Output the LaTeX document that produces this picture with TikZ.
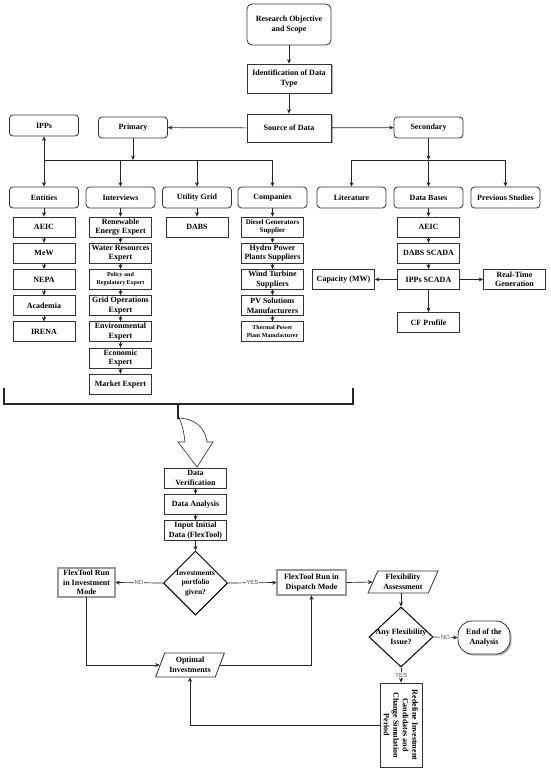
\documentclass[tikz,border=0pt]{standalone}
\usepackage{fontspec}
\setmainfont{Liberation Serif}
\newfontfamily\labelsans{Liberation Sans}
\usetikzlibrary{arrows.meta,shapes.geometric,shadows}

\begin{document}
\begin{tikzpicture}[x=1pt,y=-1pt,
    >={Stealth[length=4.5pt,width=4pt]},
    every node/.style={font=\fontsize{8}{9.5}\selectfont\bfseries, align=center, inner sep=0.75pt},
    txtn/.style={},
    txtm/.style={font=\fontsize{7}{8.5}\selectfont\bfseries},
    txts/.style={font=\fontsize{6}{7.8}\selectfont\bfseries},
    rbox/.style={draw=black!80, line width=0.8pt, rounded corners=3.5pt, fill=white, minimum width=69pt, minimum height=21pt},
    sbox/.style={draw=black!80, line width=0.8pt, fill=white, minimum width=62pt, minimum height=20pt},
    shbox/.style={draw=black!80, line width=0.8pt, fill=white, minimum width=84pt, drop shadow={shadow xshift=1.5pt, shadow yshift=-1.5pt, fill=black!50, opacity=0.6}},
    runbox/.style={draw=black!75, double=black!40, line width=0.6pt, double distance=1.4pt, fill=white},
    iobox/.style={trapezium, trapezium left angle=65, trapezium right angle=115, trapezium stretches=true, draw=black!80, line width=0.8pt, fill=white},
    decision/.style={diamond, draw=black, line width=1pt, fill=white, minimum width=64pt, minimum height=64pt, inner sep=0pt},
    endbox/.style={draw=black!80, line width=0.8pt, rounded corners=14pt, fill=white, minimum width=52pt, minimum height=33pt, drop shadow={shadow xshift=1.5pt, shadow yshift=-1.5pt, fill=black!50, opacity=0.6}},
    conn/.style={draw=black!85, line width=0.7pt, ->},
    bus/.style={draw=black!85, line width=0.7pt},
    yn/.style={font=\labelsans\fontsize{6}{7}\selectfont, fill=white, inner sep=0.8pt, text=black!70}]
    \fill[white] (0,0) rectangle (550,770);
    \useasboundingbox (0,0) rectangle (550,770);

    % Top of the chart
    \node[rbox, minimum width=84pt, minimum height=41pt, rounded corners=5pt] (obj) at (289,24.5) {Research Objective\\and Scope};
    \node[shbox, minimum height=29pt] (ident) at (289,78.5) {Identification of Data\\Type};
    \node[shbox, minimum height=28pt] (src) at (289,128) {Source of Data};
    \node[rbox] (prim) at (133,127.5) {Primary};
    \node[rbox] (ipps) at (44,125.5) {IPPs};
    \node[rbox] (sec) at (428.5,127.5) {Secondary};
    \draw[conn] (obj) -- (ident);
    \draw[conn] (ident) -- (src);
    \draw[conn] (src) -- (prim);
    \draw[conn] (src) -- (sec);

    % Data categories
    \foreach \nm/\xx/\txt in {ent/44/Entities, intv/120.5/Interviews, util/197/Utility Grid, comp/272.5/Companies, lit/351.5/Literature, dbase/428.5/Data Bases, prev/505.5/Previous Studies}
        \node[rbox] (\nm) at (\xx,197.5) {\txt};
    \coordinate (pbus) at (133,160);
    \coordinate (sbus) at (428.5,160);
    \draw[conn] (prim) -- (pbus);
    \draw[bus] (ent.north |- pbus) -- (comp.north |- pbus);
    \draw[<->, draw=black!85, line width=0.7pt] (ipps) -- (ent);
    \foreach \nm in {intv,util,comp}
        \draw[conn] (pbus -| \nm.north) -- (\nm.north);
    \draw[conn] (sec) -- (sbus);
    \draw[bus] (lit.north |- sbus) -- (prev.north |- sbus);
    \foreach \nm in {lit,dbase,prev}
        \draw[conn] (sbus -| \nm.north) -- (\nm.north);

    % Entities
    \foreach \nm/\yy/\txt/\st [remember=\nm as \pv (initially ent)] in
        {e1/227/AEIC/txtn, e2/253.2/MeW/txtn, e3/279.4/NEPA/txtn, e4/305.6/Academia/txtn, e5/331.8/IRENA/txtn}
        {\node[sbox,\st] (\nm) at (44,\yy) {\txt};
         \draw[conn] (\pv.south) -- (\nm.north);}
    % Interviews
    \foreach \nm/\yy/\txt/\st [remember=\nm as \pv (initially intv)] in
        {i1/227/Renewable\\Energy Expert/txtn, i2/253.2/Water Resources\\Expert/txtn, i3/279.4/Policy and\\Regulatory Expert/txts,
         i4/305.6/Grid Operations\\Expert/txtn, i5/331.8/Environmental\\Expert/txtn, i6/358/Economic\\Expert/txtn, i7/384.2/Market Expert/txtn}
        {\node[sbox,\st] (\nm) at (120.5,\yy) {\txt};
         \draw[conn] (\pv.south) -- (\nm.north);}
    % Utility grid
    \node[sbox] (u1) at (197,227) {DABS};
    \draw[conn] (util) -- (u1);
    % Companies
    \foreach \nm/\yy/\txt/\st [remember=\nm as \pv (initially comp)] in
        {c1/227/Diesel Generators\\Supplier/txtm, c2/253.2/Hydro Power\\Plants Suppliers/txtn, c3/279.4/Wind Turbine\\Suppliers/txtn,
         c4/305.6/PV Solutions\\Manufacturers/txtn, c5/331.8/Thermal Power\\Plant Manufacturer/txts}
        {\node[sbox,\st] (\nm) at (272.5,\yy) {\txt};
         \draw[conn] (\pv.south) -- (\nm.north);}
    % Data bases
    \foreach \nm/\yy/\txt [remember=\nm as \pv (initially dbase)] in
        {b1/227/AEIC, b2/253.2/DABS SCADA, b3/279.4/IPPs SCADA}
        {\node[sbox] (\nm) at (428.5,\yy) {\txt};
         \draw[conn] (\pv.south) -- (\nm.north);}
    \node[sbox] (cap) at (343.5,279.4) {Capacity (MW)};
    \node[sbox] (rtg) at (514.5,279.4) {Real-Time\\Generation};
    \node[sbox] (cfp) at (428.5,322.5) {CF Profile};
    \draw[conn] (b3) -- (cap);
    \draw[conn] (b3) -- (rtg);
    \draw[conn] (b3) -- (cfp);

    %Shape: bracket and bent block arrow
    \draw[black!85, line width=1.2pt] (4,388) -- (4,404) -- (353,404) -- (353,388);
    \draw[black!85, line width=1.2pt] (178,404) -- (178,419);
    \draw[black!85, line width=0.6pt, fill=white] (179,418) .. controls (183,426) and (184,434) .. (185,442) -- (178,442) -- (197,467) -- (213,442) -- (207,442) .. controls (205,428) and (196,419) .. (179,418) -- cycle;

    % Modelling loop
    \node[sbox] (ver) at (195.5,478) {Data\\Verification};
    \node[sbox] (ana) at (195.5,504.5) {Data Analysis};
    \node[sbox] (inp) at (195.5,530.5) {Input Initial\\Data (FlexTool)};
    \draw[conn] (ver) -- (ana);
    \draw[conn] (ana) -- (inp);
    \node[decision] (q1) at (195.5,583) {};
    \node[font=\fontsize{7.5}{9.5}\selectfont\bfseries] (q1t) at (q1) {Investments\\portfolio\\given?};
    \draw[conn] (inp) -- (q1);
    \node[runbox, minimum width=57pt, minimum height=29pt] (inv) at (86.5,582.5) {FlexTool Run\\in Investment\\Mode};
    \node[runbox, minimum width=69pt, minimum height=25pt] (disp) at (311.5,582.5) {FlexTool Run in\\Dispatch Mode};
    \draw[conn] (q1.west) -- node[yn] {NO} (inv.east);
    \draw[conn] (q1.east) -- node[yn] {YES} (disp.west);
    \node[iobox, minimum width=70pt, minimum height=22pt] (flex) at (403,582) {Flexibility\\Assessment};
    \draw[conn] (disp.east) -- (flex.west);
    \node[decision, minimum height=60pt] (q2) at (401,637) {};
    \node (q2t) at (q2) {Any Flexibility\\Issue?};
    \draw[conn] (flex.south -| q2.north) -- (q2.north);
    \node[endbox] (fin) at (484,637.5) {End of the\\Analysis};
    \draw[conn] (q2.east) -- node[yn] {NO} (fin.west);
    \node[sbox, rotate=-90, minimum width=84pt, minimum height=42pt] (redo) at (401,725) {Redefine Investment\\Candidates and\\Change Simulation\\Period};
    \draw[conn] (q2.south) -- node[yn] {YES} (redo.west);
    \node[iobox, minimum width=69pt, minimum height=24pt] (opt) at (190,665) {Optimal\\Investments};
    \draw[conn] (inv.south) |- (opt.west);
    \draw[conn] (opt.east) -| (disp.south);
    \draw[conn] (redo.south) -| (opt.south);

\end{tikzpicture}
\end{document}
